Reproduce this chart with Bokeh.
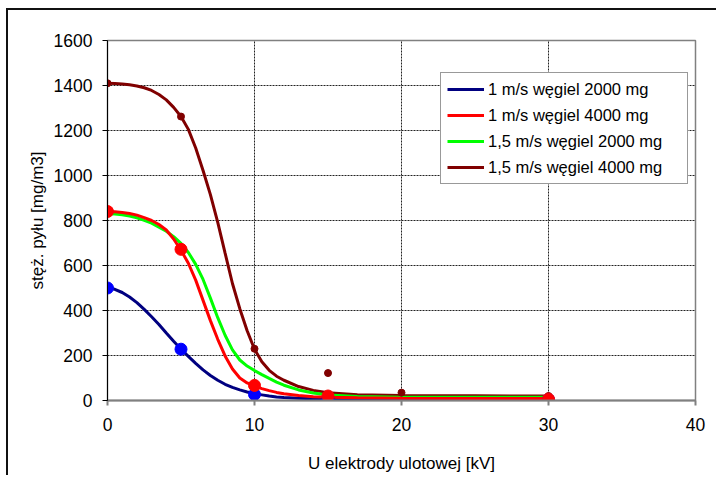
from bokeh.plotting import figure
from bokeh.models import Legend, LegendItem, FixedTicker, Range1d
from bokeh.embed import file_html
from bokeh.resources import INLINE

# measured points
blue_px = [0, 5, 10, 15, 30]
blue_py = [500, 228, 27, 6, 4]
red_px = [0, 5, 10, 15, 30]
red_py = [840, 672, 67, 20, 6]
dred_px = [0, 5, 10, 15, 20, 30]
dred_py = [1410, 1262, 230, 122, 35, 20]

# fitted curves
cx = [0, 0.5, 1, 1.5, 2, 2.5, 3, 3.5, 4, 4.5, 5, 5.5, 6, 6.5, 7, 7.5, 8, 8.5, 9, 9.5,
      10, 10.5, 11, 11.5, 12, 13, 14, 15, 17, 20, 25, 30]
blue_cy = [500, 494, 480, 460, 435, 405, 372, 338, 300, 263, 228, 196, 165, 136, 111, 90,
           72, 58, 47, 38, 30, 25, 20, 16, 13, 10, 8, 6, 5, 4, 4, 4]
red_cy = [840, 839, 836, 831, 824, 813, 800, 782, 758, 718, 668, 610, 535, 445, 355, 272,
          198, 140, 100, 78, 64, 53, 44, 36, 30, 22, 17, 14, 12, 10, 9, 9]
green_cy = [830, 829, 826, 820, 812, 801, 788, 770, 752, 728, 698, 658, 605, 538, 455, 368,
            290, 225, 180, 153, 133, 115, 98, 82, 68, 47, 33, 24, 18, 15, 14, 14]
dred_cy = [1410, 1409, 1407, 1403, 1398, 1390, 1378, 1360, 1336, 1303, 1262, 1205, 1122, 1022,
           915, 792, 655, 520, 408, 310, 228, 172, 134, 108, 90, 62, 45, 35, 26, 22, 21, 20]

labels = ["1 m/s węgiel 2000 mg", "1 m/s węgiel 4000 mg",
          "1,5 m/s węgiel 2000 mg", "1,5 m/s węgiel 4000 mg"]
xticks = [0, 10, 20, 30, 40]
yticks = [0, 200, 400, 600, 800, 1000, 1200, 1400, 1600]

FONT = "Liberation Sans"

p = figure(width=710, height=467, output_backend="svg", toolbar_location=None,
           x_range=Range1d(0, 40), y_range=Range1d(0, 1600),
           min_border_left=99, min_border_right=23, min_border_top=30, min_border_bottom=77,
           margin=(8, 0, 0, 6),
           styles={"border-top": "2px solid #111", "border-left": "2px solid #111"})
p.background_fill_color = "white"
p.border_fill_color = "white"
p.outline_line_color = "#808080"
p.outline_line_width = 1.5

for ax in (p.xaxis[0], p.yaxis[0]):
    ax.major_label_text_font = FONT
    ax.major_label_text_font_size = "17.5px"
    ax.major_label_text_color = "black"
    ax.axis_label_text_font = FONT
    ax.axis_label_text_font_size = "17px"
    ax.axis_label_text_font_style = "normal"
    ax.axis_label_text_color = "black"
    ax.minor_tick_line_color = None
    ax.major_tick_in = 0
    ax.major_tick_out = 5

p.xaxis.ticker = FixedTicker(ticks=xticks)
p.yaxis.ticker = FixedTicker(ticks=yticks)
p.xaxis.axis_label = "U elektrody ulotowej [kV]"
p.yaxis.axis_label = "stęż. pyłu [mg/m3]"
p.xaxis.axis_line_color = "#808080"
p.xaxis.axis_line_width = 2
p.xaxis.major_tick_line_color = "#808080"
p.xaxis.major_tick_line_width = 2
p.xaxis.major_label_standoff = 12
p.xaxis.axis_label_standoff = 20
p.yaxis.axis_line_color = "black"
p.yaxis.major_tick_line_color = "black"
p.yaxis.major_label_standoff = 10
p.yaxis.axis_label_standoff = 4

p.xgrid.ticker = FixedTicker(ticks=[10, 20, 30])
p.ygrid.ticker = FixedTicker(ticks=yticks[1:])
for g in (p.xgrid[0], p.ygrid[0]):
    g.grid_line_color = "#222222"
    g.grid_line_dash = "2 1"
    g.grid_line_width = 1

lw = 3
r_blue = p.line(cx, blue_cy, line_color="#000080", line_width=lw)
r_dred = p.line(cx, dred_cy, line_color="#800000", line_width=lw)
r_green = p.line(cx, green_cy, line_color="#00FF00", line_width=lw)
r_red = p.line(cx, red_cy, line_color="#FF0000", line_width=lw)

p.scatter(dred_px, dred_py, size=7, color="#800000")
p.scatter(blue_px, blue_py, size=12, color="#0000FF")
p.scatter(red_px, red_py, size=12, color="#FF0000")

legend = Legend(items=[LegendItem(label=labels[0], renderers=[r_blue]),
                       LegendItem(label=labels[1], renderers=[r_red]),
                       LegendItem(label=labels[2], renderers=[r_green]),
                       LegendItem(label=labels[3], renderers=[r_dred])],
                location=(333, 216))
legend.label_text_font = FONT
legend.label_text_font_size = "16.5px"
legend.label_text_color = "black"
legend.glyph_width = 37
legend.glyph_height = 20
legend.label_height = 20
legend.label_width = 193
legend.spacing = 6
legend.padding = 6
legend.margin = 0
legend.label_standoff = 4
legend.border_line_color = "#333333"
legend.border_line_width = 1
legend.background_fill_color = "white"
legend.background_fill_alpha = 1
p.add_layout(legend, "center")

open("out.html", "w").write(file_html(p, INLINE))
